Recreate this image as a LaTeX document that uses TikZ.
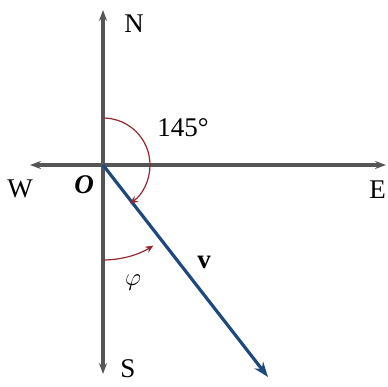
\documentclass[tikz,border=0pt]{standalone}
\usepackage{fontspec}
\setmainfont{Liberation Serif}
\usetikzlibrary{arrows.meta}

\begin{document}
\begin{tikzpicture}[x=1pt,y=1pt,yscale=-1,xscale=1,
  axis/.style={draw={rgb,255:red,85;green,85;blue,85},line width=3.5pt,-{Stealth[length=11pt,width=8pt]}},
  vec/.style={draw={rgb,255:red,31;green,73;blue,125},line width=3.2pt,-{Stealth[length=15pt,width=11pt]}},
  angarc/.style={draw={rgb,255:red,150;green,40;blue,50},line width=1.2pt,-{Stealth[length=8pt,width=7pt]}},
  lbl/.style={font=\fontsize{27}{30}\selectfont}]
\useasboundingbox (0,0) rectangle (387,387);
%Coordinates
\coordinate (O) at (103,165);
\coordinate (north) at (103,10);
\coordinate (south) at (103,374);
\coordinate (west) at (30,165);
\coordinate (east) at (386,165);
\coordinate (tip) at (268,377);
%Axes
\draw [axis] (O) -- (north);
\draw [axis] (O) -- (south);
\draw [axis] (O) -- (west);
\draw [axis] (O) -- (east);
%Vector v
\draw [vec] (O) -- (tip);
%Arc 145
\draw [angarc] ([shift={(90:-47)}]O) arc[start angle=-90,end angle=55,radius=47];
%Arc phi
\draw [angarc] ([shift={(-90:-95)}]O) arc[start angle=90,end angle=58,radius=95];
%Labels
\node [lbl] (nlbl) at (134,24) {N};
\node [lbl] (slbl) at (128,369) {S};
\node [lbl] (wlbl) at (20,189) {W};
\node [lbl,anchor=east,inner sep=1pt] (elbl) at (387,190) {E};
\node [lbl] (olbl) at (84,185) {\bfseries\itshape O};
\node [lbl] (alph) at (183,128) {145\textdegree};
\node [lbl] (vlbl) at (204,262) {\bfseries v};
\node [lbl] (plbl) at (133,283) {$\varphi$};
\end{tikzpicture}
\end{document}
